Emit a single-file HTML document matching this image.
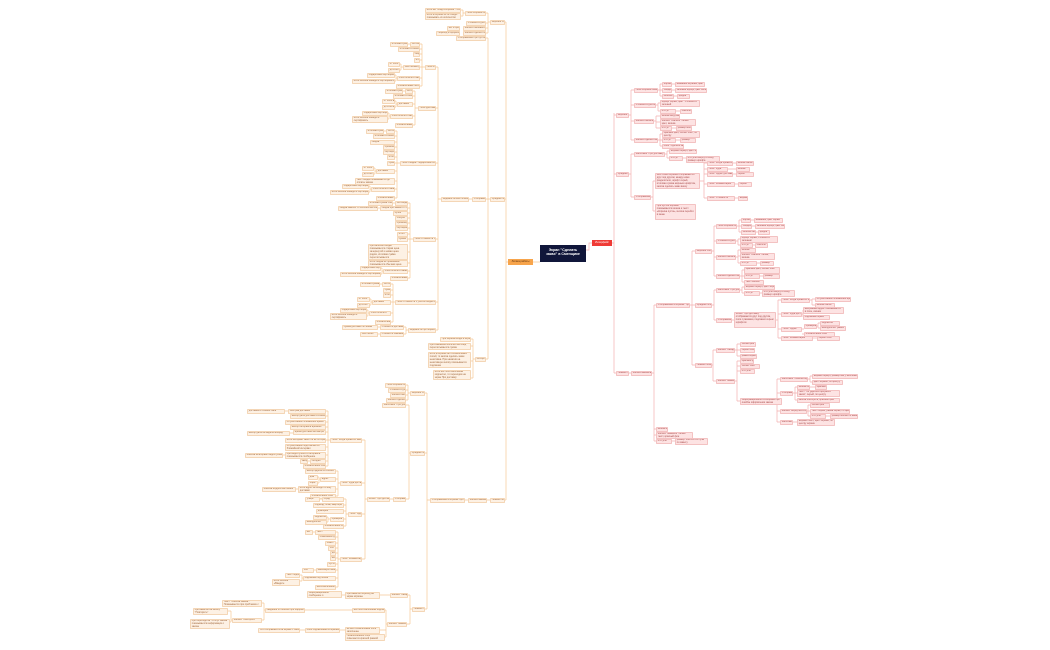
<!DOCTYPE html>
<html><head><meta charset="utf-8"><style>
html,body{margin:0;padding:0;background:#fff;width:1050px;height:650px;overflow:hidden;font-family:"Liberation Sans","DejaVu Sans",sans-serif}
#w{position:relative;width:1050px;height:650px}
svg{position:absolute;left:0;top:0}
i{position:absolute;font-style:normal;box-sizing:border-box;font-size:2.4px;line-height:2.8px;padding:0.4px 0.8px;height:4.6px;overflow:hidden;white-space:nowrap;border-radius:0.8px}
i.o{background:#fdf1e4;border:0.5px solid #f4d6b6;color:#a0663a}
i.p{background:#fde3e3;border:0.5px solid #f3c2c2;color:#a84a4a}
i.h2{height:7px;white-space:normal}
i.h3{height:10px;white-space:normal}
i.h5{height:16px;white-space:normal}
.root{position:absolute;left:540px;top:245px;width:46px;height:17px;background:#10163a;color:#fff;font-size:3.6px;line-height:4.4px;text-align:center;padding-top:3px;box-sizing:border-box;font-weight:bold}
.red{position:absolute;left:592px;top:240px;width:20px;height:6px;background:#ef3b36;color:#fff;font-size:2.6px;line-height:6px;text-align:center}
.org{position:absolute;left:508px;top:259px;width:25px;height:6px;background:#f7a44b;color:#5a2d08;font-size:2.6px;line-height:6px;text-align:center}
</style></head><body><div id="w">
<svg width="1050" height="650" viewBox="0 0 1050 650" fill="none" stroke-width="0.7">
<g stroke="#f5c896">
<path d="M540 262 H533 M508 262 H506 M506 22 V500 M505 22 H506 M505 199 H506 M505 500 H506"/>
<path d="M490 22 H488 M488 13 V33 M486 13 H488 M486 23 H488 M486 28 H488 M486 33 H488"/>
<path d="M465 13 H463 M463 10 V16 M461 10 H463 M461 16 H463 M447 28 H460 M436 33 H460"/>
<path d="M490 199 H488 M488 38 V359 M486 38 H488 M486 199 H488 M486 359 H488 M469 199 H472"/>
<path d="M441 199 H438 M438 67 V330 M436 67 H438 M436 108 H438 M436 163 H438 M436 239 H438 M436 302 H438 M436 330 H438"/>
<path d="M425 67 H422 M422 44 V86 M420 44 H422 M420 49 H422 M420 54 H422 M420 60 H422 M420 67 H422 M420 78 H422 M420 86 H422 M408 44 H410 M403 67 H401 M401 64 V70 M400 64 H401 M400 70 H401 M397 78 H396 M396 75 V81 M395 75 H396 M395 81 H396"/>
<path d="M418 108 H415 M415 91 V125 M413 91 H415 M413 96 H415 M413 104 H415 M413 116 H415 M413 125 H415 M403 91 H405 M397 104 H396 M396 101 V107 M395 101 H396 M395 107 H396 M390 116 H389 M389 113 V119 M388 113 H389 M388 119 H389"/>
<path d="M400 163 H397 M397 131 V198 M395 131 H397 M395 136 H397 M395 142 H397 M395 147 H397 M395 152 H397 M395 157 H397 M395 163 H397 M395 171 H397 M395 181 H397 M395 189 H397 M395 198 H397 M384 131 H386 M376 171 H375 M375 168 V174 M374 168 H375 M374 174 H375 M371 189 H370 M370 186 V192 M369 186 H370 M369 192 H370"/>
<path d="M413 239 H410 M410 203 V278 M408 203 H410 M408 208 H410 M408 213 H410 M408 218 H410 M408 223 H410 M408 228 H410 M408 234 H410 M408 239 H410 M408 252 H410 M408 263 H410 M408 271 H410 M408 278 H410 M393 203 H395 M378 208 H380 M383 271 H382 M382 268 V274 M381 268 H382 M381 274 H382"/>
<path d="M395 302 H393 M393 284 V322 M391 284 H393 M391 290 H393 M391 295 H393 M391 302 H393 M391 313 H393 M391 322 H393 M380 284 H382 M372 302 H371 M371 299 V305 M370 299 H371 M370 305 H371 M369 313 H368 M368 310 V316 M367 310 H368 M367 316 H368"/>
<path d="M408 330 H406 M406 327 V334 M404 327 H406 M404 334 H406 M378 327 H380 M378 334 H380"/>
<path d="M475 359 H473 M473 339 V378 M471 339 H473 M471 346 H473 M471 361 H473 M471 378 H473"/>
<path d="M490 500 H487 M468 500 H465 M430 500 H427 M427 393 V609 M425 393 H427 M425 453 H427 M425 609 H427"/>
<path d="M410 393 H408 M408 385 V400 M406 385 H408 M406 390 H408 M406 395 H408 M406 400 H408"/>
<path d="M410 453 H409 M409 405 V499 M406 405 H409 M406 499 H409 M393 499 H390"/>
<path d="M367 499 H365 M365 440 V559 M362 440 H365 M362 483 H365 M362 514 H365 M362 559 H365"/>
<path d="M330 440 H328 M328 411 V466 M326 411 H328 M326 416 H328 M326 422 H328 M326 427 H328 M326 432 H328 M326 440 H328 M326 447 H328 M326 455 H328 M326 461 H328 M326 466 H328 M285 411 H288 M290 433 H293 M283 455 H285 M308 461 H310"/>
<path d="M340 483 H338 M338 471 V496 M336 471 H338 M336 479 H338 M336 489 H338 M336 496 H338 M320 479 H319 M319 477 V483 M318 477 H319 M318 483 H319 M296 489 H298"/>
<path d="M348 514 H346 M346 499 V526 M344 499 H346 M344 505 H346 M344 511 H346 M344 519 H346 M344 526 H346 M320 499 H322 M330 519 H328 M328 517 V522 M327 517 H328 M327 522 H328"/>
<path d="M340 559 H338 M338 532 V587 M336 532 H338 M336 537 H338 M336 543 H338 M336 548 H338 M336 553 H338 M336 558 H338 M336 564 H338 M336 570 H338 M336 578 H338 M336 587 H338 M313 532 H315 M314 570 H316 M303 578 H302 M302 575 V581 M300 575 H302 M300 581 H302"/>
<path d="M412 609 H410 M410 595 V624 M408 595 H410 M407 624 H410 M380 595 H390 M342 595 H345 M387 624 H386 M386 610 V637 M385 610 H386 M380 630 H386 M385 637 H386 M352 610 H305 M265 610 H264 M264 603 V620 M262 603 H264 M262 620 H264 M232 620 H231 M231 611 V622 M228 611 H231 M230 622 H231 M345 630 H340 M305 630 H300"/>
</g>
<g stroke="#f4b0b0">
<path d="M586 250 H589 V243 H592 M612 243 H614 M614 113 V373 M614 115 H616 M614 174 H616 M614 373 H616"/>
<path d="M629 115 H631 M631 90 V140 M631 90 H634 M631 105 H634 M631 121 H634 M631 140 H634"/>
<path d="M658 90 H660 M660 84 V96 M660 84 H662 M660 90 H662 M660 96 H662 M672 84 H675 M672 90 H675 M674 96 H677"/>
<path d="M656 105 H658 M658 103 V111 M658 103 H660 M658 111 H660 M676 111 H680"/>
<path d="M654 121 H656 M656 116 V128 M656 116 H660 M656 122 H660 M656 128 H660 M672 128 H676"/>
<path d="M658 140 H660 M660 134 V146 M660 134 H662 M660 140 H662 M660 146 H662 M676 140 H680"/>
<path d="M629 174 H631 M631 154 V197 M631 154 H634 M631 197 H634"/>
<path d="M665 154 H667 M667 151 V158 M667 151 H669 M667 158 H669 M683 158 H686"/>
<path d="M651 197 H653 M653 181 V211 M653 181 H655 M653 211 H655 M700 181 H704 M704 163 V198 M704 163 H707 M704 169 H707 M704 174 H707 M704 184 H707 M704 198 H707 M733 163 H736 M728 169 H736 M733 174 H736 M735 184 H738 M735 198 H738"/>
<path d="M629 373 H631 M652 373 H654 M654 305 V441 M654 305 H656 M654 429 H656 M654 435 H656 M654 441 H656 M672 441 H675"/>
<path d="M690 305 H692 M692 251 V365 M692 251 H695 M692 305 H695 M692 365 H695"/>
<path d="M712 251 H714 M714 226 V276 M714 226 H716 M714 241 H716 M714 257 H716 M714 276 H716"/>
<path d="M737 226 H739 M739 220 V232 M739 220 H741 M739 226 H741 M739 232 H741 M751 220 H754 M752 226 H755 M756 232 H758"/>
<path d="M736 241 H738 M738 239 V245 M738 239 H740 M738 245 H740 M753 245 H755"/>
<path d="M736 257 H738 M738 250 V263 M738 250 H740 M738 256 H740 M738 263 H740 M757 263 H760"/>
<path d="M740 276 H742 M742 270 V282 M742 270 H744 M742 276 H744 M742 282 H744 M760 276 H763"/>
<path d="M712 305 H714 M714 290 V320 M714 290 H716 M714 320 H716 M740 290 H742 M742 287 V293 M742 287 H744 M742 293 H744 M760 293 H762"/>
<path d="M732 320 H734 M776 320 H778 M778 300 V338 M778 300 H781 M778 314 H781 M778 329 H781 M778 338 H781 M810 300 H812 M812 299 V305 M812 299 H815 M812 305 H815 M802 314 H803 M803 310 V317 M803 317 H803 M802 329 H804 M817 326 H818 M818 323 V328 M818 323 H820 M818 328 H820 M802 334 H804 M813 338 H817"/>
<path d="M712 365 H713 M713 350 V381 M713 350 H716 M713 381 H716 M735 350 H737 M737 344 V356 M737 344 H740 M737 350 H740 M737 356 H740"/>
<path d="M735 381 H737 M737 361 V401 M737 361 H740 M737 366 H740 M737 371 H740 M737 401 H740"/>
<path d="M782 401 H777 M777 379 V422 M777 379 H780 M777 393 H780 M777 411 H780 M777 422 H780 M808 379 H810 M810 376 V382 M810 376 H812 M810 382 H812 M793 393 H795 M795 387 V400 M795 387 H797 M795 393 H797 M795 400 H797 M810 387 H815 M807 411 H808 M808 405 V416 M808 405 H810 M808 411 H810 M808 416 H810 M826 416 H830 M793 422 H797"/>
</g>
</svg>

<div class="root">Экран "Сделать<br>заказ" в Сменщике</div>
<div class="red">Интерфейс</div>
<div class="org">Логика работы</div>

<!-- LEFT upper -->
<i class="o" style="left:490px;top:20px;width:15px">Верхний блок</i>
<i class="o" style="left:490px;top:197px;width:15px">Средний блок</i>
<i class="o" style="left:490px;top:498px;width:15px">Нижний блок</i>
<i class="o" style="left:465px;top:11px;width:21px">Поле Корзина Сменщика</i>
<i class="o" style="left:425px;top:8px;width:36px">если нет блюд в корзине - текст Пусто</i>
<i class="o h2" style="left:425px;top:13px;width:36px">если в корзине есть блюда - показывать их количество</i>
<i class="o" style="left:466px;top:21px;width:20px">Стоимость доставки</i>
<i class="o" style="left:463px;top:26px;width:23px">Кнопка Скачивать</i>
<i class="o" style="left:447px;top:26px;width:13px">нет в приложении</i>
<i class="o" style="left:463px;top:31px;width:23px">Кнопка Сделать заказ</i>
<i class="o" style="left:436px;top:31px;width:24px">Переход к оформлению</i>
<i class="o" style="left:456px;top:36px;width:30px">Отображение при пустой корзине</i>
<i class="o" style="left:472px;top:197px;width:14px">Отображение</i>
<i class="o" style="left:441px;top:197px;width:28px">Видимость всех блоков корзины</i>
<i class="o" style="left:475px;top:357px;width:11px">Алгоритм</i>

<i class="o" style="left:425px;top:65px;width:11px">Поле Итого</i>
<i class="o" style="left:410px;top:42px;width:10px">без скидки</i><i class="o" style="left:390px;top:42px;width:18px">итоговая сумма</i>
<i class="o" style="left:398px;top:47px;width:22px">итоговая стоимость блюд</i>
<i class="o" style="left:413px;top:52px;width:7px">скидка</i>
<i class="o" style="left:414px;top:58px;width:6px">итого</i>
<i class="o" style="left:403px;top:65px;width:17px">бесплатная доставка</i>
<i class="o" style="left:388px;top:62px;width:12px">от 1000 ₽</i><i class="o" style="left:388px;top:68px;width:12px">до 1000 ₽</i>
<i class="o" style="left:397px;top:76px;width:23px">блок оплатить заказ</i>
<i class="o" style="left:367px;top:73px;width:28px">подарочный сертификат</i><i class="o" style="left:352px;top:79px;width:43px">если ошибка «Введите сертификат»</i>
<i class="o" style="left:396px;top:84px;width:24px">обязательные поля</i>

<i class="o" style="left:418px;top:106px;width:18px">Поле Доставка</i>
<i class="o" style="left:405px;top:89px;width:8px">без скидки</i><i class="o" style="left:385px;top:89px;width:18px">итоговая сумма</i>
<i class="o" style="left:393px;top:94px;width:20px">итоговая стоимость</i>
<i class="o" style="left:397px;top:102px;width:16px">доставка</i>
<i class="o" style="left:382px;top:99px;width:13px">от 1000 ₽</i><i class="o" style="left:382px;top:105px;width:13px">до 1000 ₽</i>
<i class="o" style="left:390px;top:114px;width:23px">блок оплатить заказ</i>
<i class="o" style="left:362px;top:111px;width:26px">подарочный сертификат</i><i class="o h2" style="left:352px;top:116px;width:36px">если ошибка «Введите сертификат»</i>
<i class="o" style="left:395px;top:123px;width:18px">обязательные поля</i>

<i class="o" style="left:400px;top:161px;width:36px">Поле Скидка / подарочный сертификат</i>
<i class="o" style="left:386px;top:129px;width:9px">без скидки</i><i class="o" style="left:366px;top:129px;width:18px">итоговая сумма</i>
<i class="o" style="left:373px;top:134px;width:22px">итоговая стоимость блюд</i>
<i class="o" style="left:370px;top:140px;width:25px">скидка</i>
<i class="o" style="left:383px;top:145px;width:12px">промокод</i>
<i class="o" style="left:383px;top:150px;width:12px">сертификат</i>
<i class="o" style="left:387px;top:155px;width:8px">итого</i>
<i class="o" style="left:387px;top:161px;width:8px">сумма</i>
<i class="o" style="left:376px;top:169px;width:19px">доставка</i>
<i class="o" style="left:362px;top:166px;width:12px">от 1000</i><i class="o" style="left:362px;top:172px;width:12px">до 1000</i>
<i class="o h2" style="left:355px;top:178px;width:40px">текст скидки показывается до оплаты заказа</i>
<i class="o" style="left:371px;top:187px;width:24px">блок оплатить заказ</i>
<i class="o" style="left:342px;top:184px;width:27px">подарочный сертификат</i><i class="o" style="left:330px;top:190px;width:39px">если ошибка «Введите сертификат»</i>
<i class="o" style="left:376px;top:196px;width:19px">обязательные поля</i>

<i class="o" style="left:413px;top:237px;width:23px">Поле Стоимость блюд</i>
<i class="o" style="left:395px;top:201px;width:13px">без скидки</i><i class="o" style="left:368px;top:201px;width:25px">итоговая сумма блюд</i>
<i class="o" style="left:380px;top:206px;width:28px">скидка при заказе от 3</i><i class="o" style="left:338px;top:206px;width:40px">скидка зависит от количества блюд</i>
<i class="o" style="left:393px;top:211px;width:15px">купон</i>
<i class="o" style="left:395px;top:216px;width:13px">бонусы</i>
<i class="o" style="left:395px;top:221px;width:13px">промокод</i>
<i class="o" style="left:395px;top:226px;width:13px">сертификат</i>
<i class="o" style="left:397px;top:232px;width:11px">итого</i>
<i class="o" style="left:397px;top:237px;width:11px">сумма</i>
<i class="o h5" style="left:368px;top:244px;width:40px">при наличии скидки показывается старая цена зачеркнутой и новая цена рядом, итоговая сумма пересчитывается</i>
<i class="o h2" style="left:368px;top:260px;width:40px">если скидка не применена показывается обычная цена</i>
<i class="o" style="left:383px;top:269px;width:25px">блок оплатить заказ</i>
<i class="o" style="left:360px;top:266px;width:21px">подарочный сертификат</i><i class="o" style="left:340px;top:272px;width:41px">если ошибка «Введите сертификат»</i>
<i class="o" style="left:390px;top:276px;width:18px">обязательные поля</i>

<i class="o" style="left:395px;top:300px;width:41px">Поле Стоимость с учетом скидки и доставки</i>
<i class="o" style="left:382px;top:282px;width:9px">без скидки</i><i class="o" style="left:360px;top:282px;width:20px">итоговая сумма</i>
<i class="o" style="left:383px;top:288px;width:8px">сумма</i>
<i class="o" style="left:383px;top:293px;width:8px">итого</i>
<i class="o" style="left:372px;top:300px;width:19px">доставка</i>
<i class="o" style="left:357px;top:297px;width:13px">от 1000</i><i class="o" style="left:357px;top:303px;width:13px">до 1000</i>
<i class="o" style="left:369px;top:311px;width:22px">блок оплатить</i>
<i class="o" style="left:340px;top:308px;width:27px">подарочный сертификат</i><i class="o h2" style="left:330px;top:313px;width:37px">если ошибка «Введите сертификат»</i>
<i class="o" style="left:375px;top:320px;width:16px">обязательные поля</i>
<i class="o" style="left:408px;top:328px;width:28px">Видимость при переключении</i>
<i class="o" style="left:380px;top:325px;width:24px">стоимость доставки</i><i class="o" style="left:342px;top:325px;width:36px">сумма доставки по зонам</i>
<i class="o" style="left:380px;top:332px;width:24px">стоимость самовывоза</i><i class="o" style="left:360px;top:332px;width:18px">бесплатно</i>

<i class="o" style="left:440px;top:337px;width:31px">При первом входе в корзину</i>
<i class="o h2" style="left:428px;top:343px;width:43px">при изменении количества блюд пересчитывается сумма</i>
<i class="o h5" style="left:428px;top:352px;width:43px">если в корзине нет обязательных полей, то кнопка сделать заказ неактивна. При нажатии на неактивную кнопку показывается подсказка</i>
<i class="o h3" style="left:433px;top:370px;width:38px">если все поля заполнены корректно, то переходим на экран Про доставку</i>

<!-- LEFT lower -->
<i class="o" style="left:468px;top:498px;width:19px">Кнопка Заказать</i>
<i class="o" style="left:430px;top:498px;width:35px">Отображение в корзине Про доставку</i>
<i class="o" style="left:410px;top:391px;width:15px">Верхний блок</i>
<i class="o" style="left:385px;top:383px;width:21px">Поле Корзина Сменщика</i>
<i class="o" style="left:388px;top:388px;width:18px">Стоимость доставки</i>
<i class="o" style="left:390px;top:393px;width:16px">Кнопка Скачать</i>
<i class="o" style="left:386px;top:398px;width:20px">Кнопка Сделать заказ</i>
<i class="o" style="left:410px;top:451px;width:15px">Средний блок</i>
<i class="o" style="left:382px;top:403px;width:24px">Заголовок "Про доставку"</i>
<i class="o" style="left:393px;top:497px;width:13px">Отображение</i>
<i class="o" style="left:367px;top:497px;width:23px">Блоки "Про доставку"</i>
<i class="o" style="left:330px;top:438px;width:32px">Поле "Когда привезти заказ"</i>
<i class="o" style="left:288px;top:409px;width:38px">быстрая доставка</i><i class="o" style="left:247px;top:409px;width:38px">доставка в течение часа</i>
<i class="o" style="left:290px;top:414px;width:36px">выбор даты доставки из календаря</i>
<i class="o" style="left:285px;top:420px;width:41px">по умолчанию ближайшее время</i>
<i class="o" style="left:290px;top:425px;width:36px">выбор интервала времени</i>
<i class="o" style="left:293px;top:430px;width:33px">время доставки на завтра</i><i class="o" style="left:247px;top:431px;width:43px">выбор даты на неделю вперед</i>
<i class="o" style="left:285px;top:438px;width:41px">если интервал занят он не отображается</i>
<i class="o h2" style="left:285px;top:444px;width:41px">по умолчанию подставляется ближайший интервал</i>
<i class="o h2" style="left:285px;top:452px;width:41px">при недоступности интервала показывается сообщение</i><i class="o" style="left:245px;top:453px;width:38px">ошибка «Интервал недоступен»</i>
<i class="o" style="left:310px;top:459px;width:16px">сегодня</i><i class="o" style="left:300px;top:459px;width:8px">завтра</i>
<i class="o" style="left:303px;top:464px;width:23px">обязательное поле</i>
<i class="o" style="left:340px;top:481px;width:22px">Поле "Куда доставить"</i>
<i class="o" style="left:305px;top:469px;width:31px">выбор адреса из списка</i>
<i class="o" style="left:320px;top:477px;width:16px">адрес</i>
<i class="o" style="left:308px;top:475px;width:10px">дом</i><i class="o" style="left:308px;top:481px;width:10px">офис</i>
<i class="o h2" style="left:298px;top:486px;width:38px">если адрес не входит в зону доставки</i><i class="o" style="left:262px;top:487px;width:34px">ошибка «Адрес вне зоны»</i>
<i class="o" style="left:310px;top:494px;width:26px">обязательное поле</i>
<i class="o" style="left:348px;top:512px;width:14px">Поле "Адрес"</i>
<i class="o" style="left:322px;top:497px;width:22px">город</i><i class="o" style="left:305px;top:497px;width:15px">улица</i>
<i class="o" style="left:313px;top:503px;width:31px">подъезд, этаж, квартира</i>
<i class="o" style="left:316px;top:509px;width:28px">домофон</i>
<i class="o" style="left:330px;top:517px;width:14px">проверка</i>
<i class="o" style="left:313px;top:515px;width:14px">корректен</i><i class="o" style="left:305px;top:520px;width:22px">некорректен</i>
<i class="o" style="left:323px;top:524px;width:21px">обязательное поле</i>
<i class="o" style="left:340px;top:557px;width:22px">Поле "Комментарий"</i>
<i class="o" style="left:315px;top:530px;width:21px">текст</i><i class="o" style="left:305px;top:530px;width:8px">нет</i>
<i class="o" style="left:318px;top:535px;width:18px">пожелания курьеру</i>
<i class="o" style="left:325px;top:541px;width:11px">лимит</i>
<i class="o" style="left:328px;top:546px;width:8px">500</i>
<i class="o" style="left:330px;top:551px;width:6px">да</i>
<i class="o" style="left:330px;top:556px;width:6px">нет</i>
<i class="o" style="left:327px;top:562px;width:9px">пусто</i>
<i class="o" style="left:316px;top:568px;width:20px">максимум символов</i><i class="o" style="left:302px;top:568px;width:12px">500</i>
<i class="o" style="left:303px;top:576px;width:33px">подсказка под полем</i>
<i class="o" style="left:285px;top:573px;width:15px">текст подсказки</i><i class="o h2" style="left:272px;top:579px;width:28px">если ошибка «Введите комментарий»</i>
<i class="o" style="left:315px;top:585px;width:21px">необязательное поле</i>
<i class="o" style="left:412px;top:607px;width:13px">Нижний блок</i>
<i class="o" style="left:390px;top:593px;width:18px">Кнопка "Назад"</i>
<i class="o h2" style="left:345px;top:592px;width:35px">при нажатии переход на экран корзины</i>
<i class="o h2" style="left:307px;top:591px;width:35px">Информационное сообщение о несохраненных данных</i>
<i class="o" style="left:387px;top:622px;width:20px">Кнопка "Заказать"</i>
<i class="o" style="left:352px;top:608px;width:33px">все поля заполнены корректно</i>
<i class="o" style="left:265px;top:608px;width:40px">сведения об ошибке при оформлении заказа</i>
<i class="o h2" style="left:222px;top:600px;width:40px">Текст "Ошибка заказа". Показывается при проблемах с оплатой заказа</i>
<i class="o" style="left:232px;top:618px;width:30px">Кнопка "Повторить"</i>
<i class="o h2" style="left:193px;top:608px;width:35px">при нажатии на кнопку "Повторить"</i>
<i class="o h3" style="left:190px;top:619px;width:40px">при переходе на "Статус заказа" показывается информация о заказе</i>
<i class="o h2" style="left:345px;top:627px;width:35px">не все обязательные поля заполнены</i>
<i class="o" style="left:305px;top:628px;width:35px">поле подсвечивается красным</i>
<i class="o" style="left:258px;top:628px;width:42px">Что отображается на экране с ошибкой</i>
<i class="o h2" style="left:345px;top:634px;width:40px">Незаполненное поле помечается красной рамкой</i>

<!-- RIGHT -->
<i class="p" style="left:616px;top:113px;width:13px">Верхний блок</i>
<i class="p" style="left:616px;top:172px;width:13px">Средний блок</i>
<i class="p" style="left:616px;top:371px;width:13px">Нижний блок</i>
<i class="p" style="left:634px;top:88px;width:24px">Поле Корзина Сменщика</i>
<i class="p" style="left:662px;top:82px;width:10px">Корзина</i><i class="p" style="left:675px;top:82px;width:30px">название корзины, цвет серый</i>
<i class="p" style="left:662px;top:88px;width:10px">Скидка</i><i class="p" style="left:675px;top:88px;width:32px">зеленый шрифт, цвет зеленый</i>
<i class="p" style="left:662px;top:94px;width:12px">количество</i><i class="p" style="left:677px;top:94px;width:13px">цифра</i>
<i class="p" style="left:634px;top:103px;width:22px">Стоимость доставки</i>
<i class="p h2" style="left:660px;top:100px;width:40px">шрифт серый, цвет "Стоимость" зеленый</i>
<i class="p" style="left:660px;top:109px;width:16px">отступ</i><i class="p" style="left:680px;top:109px;width:12px">пиксели</i>
<i class="p" style="left:634px;top:119px;width:20px">Кнопка Скачать</i>
<i class="p" style="left:660px;top:114px;width:20px">иконка загрузки</i>
<i class="p h2" style="left:660px;top:119px;width:36px">Кнопка "Скачать" белый цвет, иконка</i>
<i class="p" style="left:660px;top:126px;width:12px">отступ</i><i class="p" style="left:676px;top:126px;width:16px">размер кнопки</i>
<i class="p" style="left:634px;top:138px;width:24px">Кнопка Сделать заказ</i>
<i class="p h2" style="left:662px;top:131px;width:38px">красный цвет, белый текст, по центру</i>
<i class="p" style="left:662px;top:138px;width:14px">отступ</i><i class="p" style="left:680px;top:138px;width:16px">размер</i>
<i class="p" style="left:662px;top:144px;width:22px">поле "Сделать заказ"</i>
<i class="p" style="left:634px;top:152px;width:31px">Заголовок "Про доставку"</i>
<i class="p" style="left:669px;top:149px;width:28px">жирный шрифт, цвет черный</i>
<i class="p" style="left:669px;top:156px;width:14px">отступ</i>
<i class="p h2" style="left:686px;top:156px;width:34px">отступы сверху и снизу, размер шрифта</i>
<i class="p" style="left:634px;top:195px;width:17px">Отображение</i>
<i class="p h5" style="left:655px;top:173px;width:45px">Все блоки корзины отображаются друг под другом, между ними разделители, шрифт серый, итоговая сумма жирным шрифтом, кнопка сделать заказ внизу</i>
<i class="p h5" style="left:655px;top:204px;width:41px">При пустой корзине показывается иконка и текст «Корзина пуста», кнопка перейти в меню</i>
<i class="p" style="left:707px;top:161px;width:26px">Поле "Когда привезти"</i><i class="p" style="left:736px;top:161px;width:18px">иконка часов</i>
<i class="p" style="left:707px;top:167px;width:21px">Поле "Куда"</i><i class="p" style="left:736px;top:167px;width:14px">иконка</i>
<i class="p" style="left:707px;top:172px;width:26px">Поле "Адрес доставки"</i><i class="p" style="left:736px;top:172px;width:18px">серый</i>
<i class="p" style="left:707px;top:182px;width:28px">Поле "Комментарий"</i><i class="p" style="left:738px;top:182px;width:14px">серый</i>
<i class="p" style="left:707px;top:196px;width:28px">Поле "Стоимость"</i><i class="p" style="left:738px;top:196px;width:10px">жирный</i>

<i class="p" style="left:631px;top:371px;width:21px">Кнопка Заказать</i>
<i class="p" style="left:656px;top:303px;width:34px">Отображение в корзине "Про доставку"</i>
<i class="p" style="left:656px;top:427px;width:12px">иконка корзины</i>
<i class="p h2" style="left:656px;top:432px;width:37px">Кнопка "Заказать" белый текст, красный фон</i>
<i class="p" style="left:656px;top:439px;width:16px">отступы</i>
<i class="p h2" style="left:675px;top:438px;width:33px">размер текста и отступы по макету</i>
<i class="p" style="left:695px;top:249px;width:17px">Верхний блок</i>
<i class="p" style="left:716px;top:224px;width:21px">Поле Корзина Сменщика</i>
<i class="p" style="left:741px;top:218px;width:10px">Корзина</i><i class="p" style="left:754px;top:218px;width:29px">название, цвет серый</i>
<i class="p" style="left:741px;top:224px;width:11px">Скидка</i><i class="p" style="left:755px;top:224px;width:30px">зеленый шрифт, цвет зеленый</i>
<i class="p" style="left:741px;top:230px;width:15px">количество</i><i class="p" style="left:758px;top:230px;width:12px">цифра</i>
<i class="p" style="left:716px;top:239px;width:20px">Стоимость доставки</i>
<i class="p h2" style="left:740px;top:236px;width:38px">шрифт серый, стоимость зеленым</i>
<i class="p" style="left:740px;top:243px;width:13px">отступ</i><i class="p" style="left:755px;top:243px;width:13px">пиксели</i>
<i class="p" style="left:716px;top:255px;width:20px">Кнопка Скачать</i>
<i class="p" style="left:740px;top:248px;width:16px">иконка</i>
<i class="p h2" style="left:740px;top:253px;width:35px">Кнопка "Скачать" белая, иконка</i>
<i class="p" style="left:740px;top:261px;width:17px">отступ</i><i class="p" style="left:760px;top:261px;width:14px">размер</i>
<i class="p" style="left:716px;top:274px;width:24px">Кнопка Сделать заказ</i>
<i class="p h2" style="left:744px;top:267px;width:36px">красный цвет, белый текст</i>
<i class="p" style="left:744px;top:274px;width:16px">отступ</i><i class="p" style="left:763px;top:274px;width:17px">размер</i>
<i class="p" style="left:744px;top:280px;width:20px">текст кнопки</i>
<i class="p" style="left:695px;top:303px;width:17px">Средний блок</i>
<i class="p" style="left:716px;top:288px;width:24px">Заголовок "Про доставку"</i>
<i class="p" style="left:744px;top:285px;width:31px">жирный шрифт, цвет черный</i>
<i class="p" style="left:744px;top:291px;width:16px">отступ</i>
<i class="p h2" style="left:762px;top:290px;width:33px">отступы сверху и снизу, размер шрифта</i>
<i class="p" style="left:716px;top:318px;width:16px">Отображение</i>
<i class="p h5" style="left:734px;top:312px;width:42px">Блоки "Про доставку" отображаются друг под другом, поля с рамками, подсказки серым шрифтом</i>
<i class="p" style="left:781px;top:298px;width:29px">Поле "Когда привезти заказ"</i>
<i class="p" style="left:815px;top:297px;width:36px">по умолчанию ближайшее время</i>
<i class="p" style="left:815px;top:303px;width:20px">иконка часов</i>
<i class="p" style="left:781px;top:312px;width:21px">Поле "Куда доставить"</i>
<i class="p h2" style="left:803px;top:307px;width:41px">выбранный адрес показывается в поле, иконка</i>
<i class="p" style="left:803px;top:315px;width:27px">подсказка серым</i>
<i class="p" style="left:781px;top:327px;width:21px">Поле "Адрес"</i>
<i class="p" style="left:804px;top:324px;width:13px">проверка</i>
<i class="p" style="left:820px;top:321px;width:20px">корректен</i><i class="p" style="left:820px;top:326px;width:26px">некорректен: рамка</i>
<i class="p" style="left:804px;top:332px;width:31px">обязательное поле</i>
<i class="p" style="left:781px;top:336px;width:32px">Поле "Комментарий"</i><i class="p" style="left:817px;top:336px;width:23px">серый текст</i>
<i class="p" style="left:695px;top:363px;width:17px">Нижний блок</i>
<i class="p" style="left:716px;top:348px;width:19px">Кнопка "Назад"</i>
<i class="p" style="left:740px;top:342px;width:16px">белый фон</i>
<i class="p" style="left:740px;top:348px;width:15px">серый текст</i>
<i class="p" style="left:740px;top:354px;width:17px">рамка серая</i>
<i class="p" style="left:716px;top:379px;width:19px">Кнопка "Заказать"</i>
<i class="p" style="left:740px;top:359px;width:14px">красный фон</i>
<i class="p" style="left:740px;top:364px;width:20px">белый текст</i>
<i class="p" style="left:740px;top:369px;width:15px">отступы</i>
<i class="p h2" style="left:740px;top:398px;width:42px">Информационное сообщение при ошибке оформления заказа</i>
<i class="p" style="left:780px;top:377px;width:28px">Заголовок "Ошибка оформления"</i>
<i class="p" style="left:812px;top:374px;width:46px">жирный шрифт, размер как у заголовков</i>
<i class="p" style="left:812px;top:380px;width:31px">цвет черный, по центру</i>
<i class="p" style="left:780px;top:391px;width:13px">Отображение</i>
<i class="p" style="left:797px;top:385px;width:13px">иконка ошибки</i><i class="p" style="left:815px;top:385px;width:12px">красная</i>
<i class="p h2" style="left:797px;top:390px;width:43px">текст "Не удалось оформить заказ", серый, по центру</i>
<i class="p" style="left:797px;top:398px;width:43px">кнопка повторить, красный фон</i>
<i class="p" style="left:780px;top:409px;width:27px">Кнопка "Вернуться в корзину"</i>
<i class="p" style="left:810px;top:403px;width:20px">белый фон</i>
<i class="p" style="left:810px;top:409px;width:40px">текст серый, рамка серая, по центру</i>
<i class="p" style="left:810px;top:414px;width:16px">отступы</i><i class="p" style="left:830px;top:414px;width:28px">размер кнопки по макету</i>
<i class="p" style="left:780px;top:420px;width:13px">Заголовок</i>
<i class="p h2" style="left:797px;top:419px;width:38px">жирный текст, цвет черный, по центру экрана</i>
</div></body></html>
